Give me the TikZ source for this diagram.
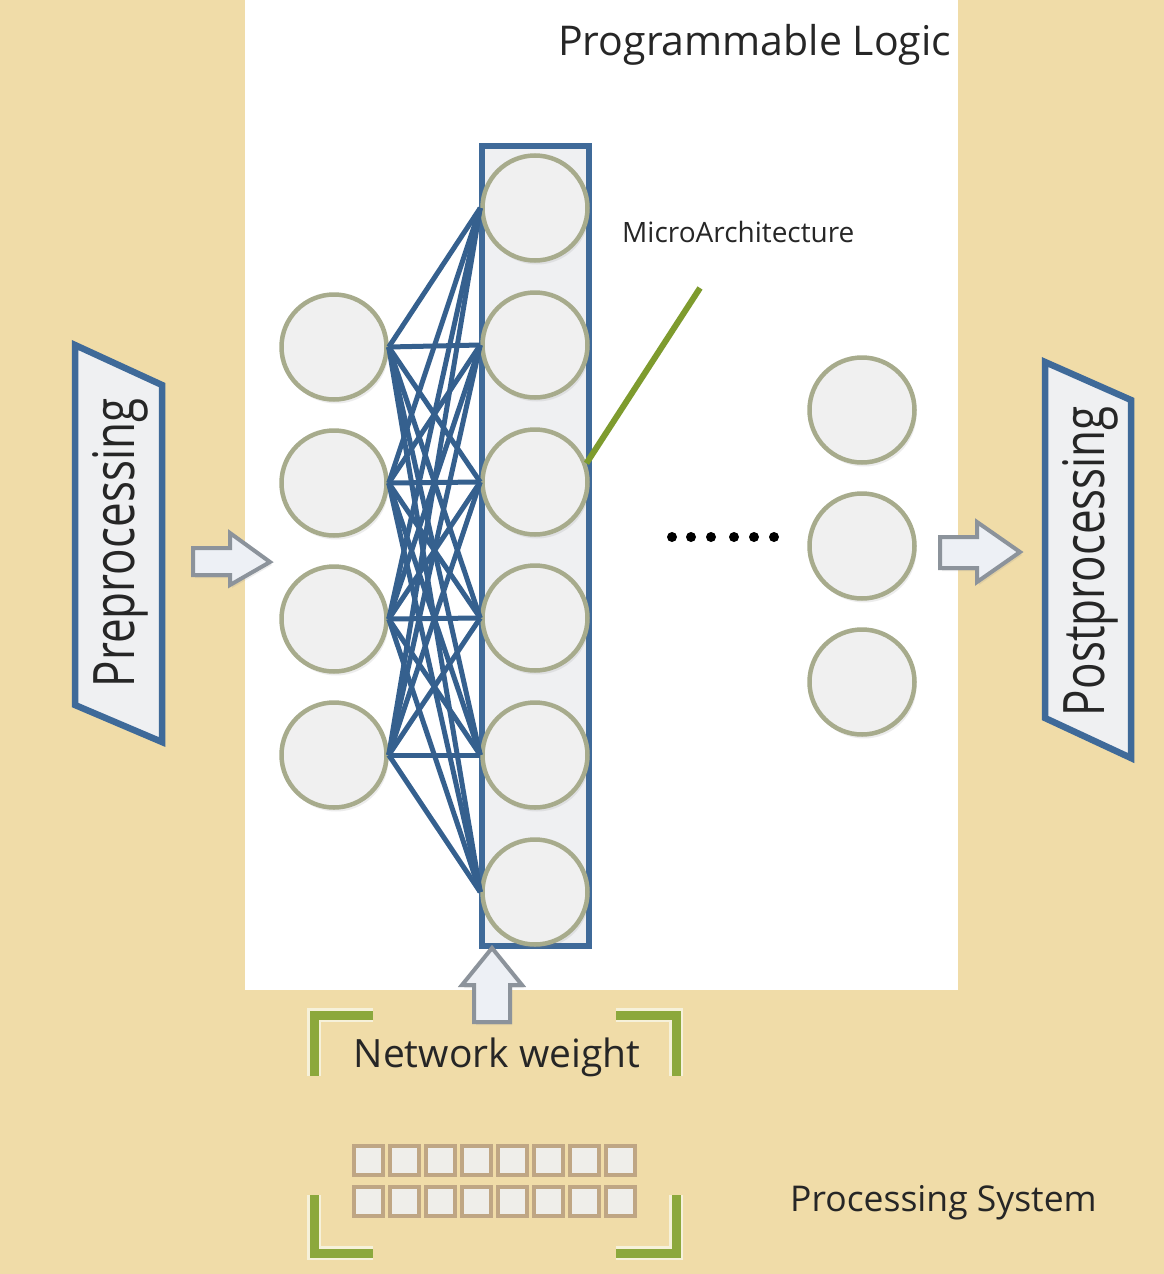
\documentclass[tikz,border=0pt]{standalone}
\usepackage{fontspec}
\setmainfont{Open Sans}
\usetikzlibrary{positioning,shadows}
\definecolor{sandbg}{HTML}{F0DCA8}
\definecolor{framblue}{HTML}{3F6A99}
\definecolor{wireblue}{HTML}{35608E}
\definecolor{neuronfill}{HTML}{F0F0F0}
\definecolor{neuronedge}{HTML}{A7AB8C}
\definecolor{panelfill}{HTML}{EFF0F2}
\definecolor{leafgreen}{HTML}{7E9B2E}
\definecolor{brackgreen}{HTML}{8CA83C}
\definecolor{brackedge}{HTML}{F6F1DA}
\definecolor{cellfill}{HTML}{EFEEEA}
\definecolor{celledge}{HTML}{BFA684}
\definecolor{arrowfill}{HTML}{EDF0F5}
\definecolor{arrowedge}{HTML}{8C939B}

\begin{document}
\begin{tikzpicture}[x=1pt,y=-1pt,
    neuron/.style={circle, draw=neuronedge, line width=4.5pt, fill=neuronfill,
        minimum size=105pt, inner sep=0pt,
        drop shadow={opacity=0.15, shadow xshift=2pt, shadow yshift=-4pt}},
    layerbox/.style={draw=framblue, line width=6pt, fill=panelfill,
        minimum width=107pt, minimum height=800pt, inner sep=0pt},
    synapse/.style={draw=wireblue, line width=5pt},
    stagebox/.style={draw=framblue, line width=6.5pt, fill=panelfill, line join=miter},
    blockarrow/.style={draw=arrowedge, line width=4pt, fill=arrowfill, line join=miter,
        drop shadow={opacity=0.15, shadow xshift=2pt, shadow yshift=-3pt}},
    bracket/.style={draw=brackedge, double=brackgreen, double distance=9pt,
        line width=2.5pt, line join=miter},
    cell/.style={draw=celledge, line width=4pt, fill=cellfill, minimum size=29pt, inner sep=0pt},
    dot/.style={circle, fill=black, minimum size=10pt, inner sep=0pt},
    biglabel/.style={font=\fontsize{39}{44}\selectfont, text=black!85, inner sep=0pt},
    smalllabel/.style={font=\fontsize{28}{32}\selectfont, text=black!85, inner sep=0pt}]

    % background
    \useasboundingbox (0,0) rectangle (1164,1274);
    \fill[sandbg] (0,0) rectangle (1164,1274);
    \fill[white] (245,0) rectangle (958,990);

    \node[biglabel, font=\fontsize{41}{46}\selectfont, anchor=west] (pl) at (558,45) {Programmable Logic};

    % preprocessing stage
    \draw[stagebox] (75,345) -- (162,385) -- (162,742) -- (75,705) -- cycle;
    \node[biglabel, font=\fontsize{44}{48}\selectfont, rotate=90] (pre) at (120,543)
        {\scalebox{1}[1.3]{Preprocessing}};
    \draw[blockarrow] (193,548) -- (230,548) -- (230,533) -- (270,562)
        -- (230,585) -- (230,575) -- (193,575) -- cycle;

    % input layer
    \foreach \i/\y in {1/347,2/483,3/619,4/755}
        \node[neuron] (l\i) at (334,\y) {};

    % hidden layer
    \node[layerbox] (micro) at (535,545.5) {};
    \foreach \j/\y in {1/208,2/345,3/482,4/618,5/755,6/892}
        \node[neuron] (m\j) at (535,\y) {};

    \foreach \i in {1,...,4}
        \foreach \j in {1,...,6}
            \draw[synapse] (l\i.east) -- (m\j.west);

    % callout
    \coordinate (tip) at (700,288);
    \draw[leafgreen, line width=6pt] (m3.20) -- (tip);
    \node[smalllabel, anchor=west] (ma) at (622,232) {MicroArchitecture};

    % dots
    \foreach \x [count=\k] in {672,691,711,734,754,774}
        \node[dot] (d\k) at (\x,537) {};

    % output layer
    \foreach \i/\y in {1/410,2/546,3/682}
        \node[neuron] (r\i) at (862,\y) {};

    \draw[blockarrow] (940,537) -- (977,537) -- (977,522) -- (1020,552)
        -- (977,582) -- (977,568) -- (940,568) -- cycle;

    % postprocessing stage
    \draw[stagebox] (1045,362) -- (1131,400) -- (1131,758) -- (1045,718) -- cycle;
    \node[biglabel, font=\fontsize{44}{48}\selectfont, rotate=90] (post) at (1090,561)
        {\scalebox{1}[1.3]{Postprocessing}};

    % weights from processing system
    \draw[blockarrow] (492,948) -- (522,985) -- (510,985) -- (510,1022)
        -- (474,1022) -- (474,985) -- (462,985) -- cycle;

    \draw[bracket] (373,1015) -- (314,1015) -- (314,1076);
    \draw[bracket] (616,1015) -- (676,1015) -- (676,1076);
    \draw[bracket] (314,1195) -- (314,1253) -- (373,1253);
    \draw[bracket] (676,1195) -- (676,1253) -- (616,1253);

    \node[biglabel] (nw) at (497,1057) {Network weight};

    \foreach \r/\y in {1/1160,2/1201}
        \foreach \c in {0,...,7}
            \node[cell] (c\r\c) at ({368+36.1*\c},\y) {};

    \node[biglabel, font=\fontsize{35.5}{40}\selectfont, anchor=west] (ps) at (790,1203) {Processing System};

\end{tikzpicture}
\end{document}
